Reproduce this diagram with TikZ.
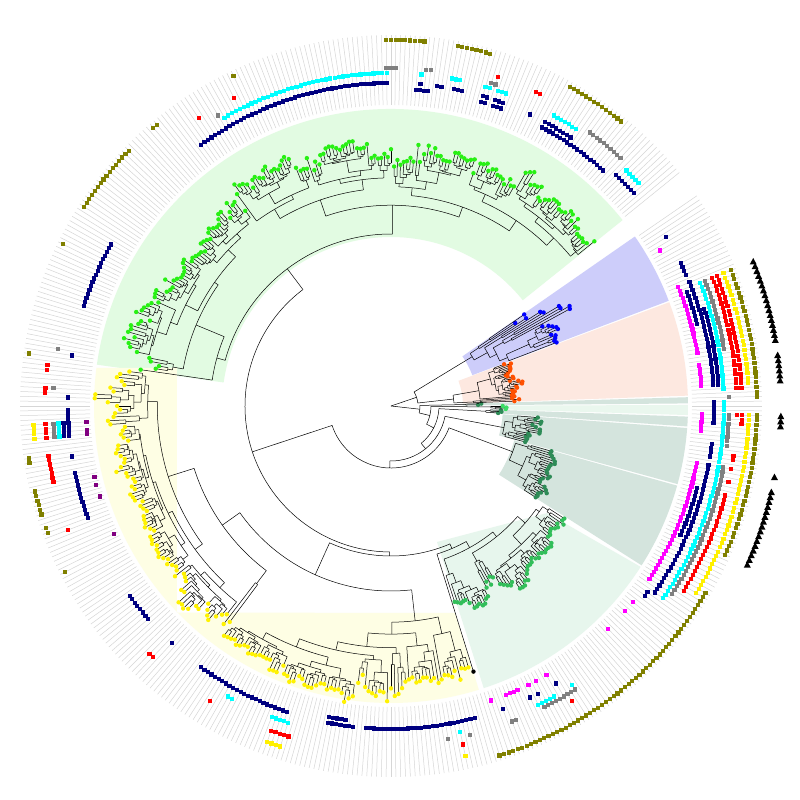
\documentclass[tikz,border=0pt]{standalone}
\definecolor{hlGreen}{RGB}{226,251,226}
\definecolor{hlYel}{RGB}{254,254,228}
\definecolor{hlSal}{RGB}{253,232,224}
\definecolor{hlBlue}{RGB}{205,205,250}
\definecolor{hlGG}{RGB}{212,228,221}
\definecolor{hlF}{RGB}{231,246,237}
\definecolor{hlB}{RGB}{234,247,238}
\definecolor{dGreen}{RGB}{40,240,20}
\definecolor{dYel}{RGB}{255,242,0}
\definecolor{dOrange}{RGB}{255,80,0}
\definecolor{dBlue}{RGB}{0,0,255}
\definecolor{dSea}{RGB}{46,139,87}
\definecolor{dF}{RGB}{50,190,90}
\definecolor{dLime}{RGB}{60,220,100}
\definecolor{cNavy}{RGB}{0,0,128}
\definecolor{cCyan}{RGB}{0,255,255}
\definecolor{cGray}{RGB}{128,128,128}
\definecolor{cRed}{RGB}{255,0,0}
\definecolor{cYel}{RGB}{255,240,0}
\definecolor{cOlive}{RGB}{128,128,0}
\definecolor{cMag}{RGB}{255,0,255}
\definecolor{cPur}{RGB}{128,0,128}
\definecolor{cLine}{RGB}{214,214,214}

\newcommand\tipvar{10}
% \subtree{klo}{khi}{rparent}{rnode}{rtip}{dotcolor}
\newcommand\subtree[6]{%
  \begingroup
  \pgfmathtruncatemacro\nlv{#2-#1}%
  \ifnum\nlv=0\relax
    \pgfmathsetmacro\stang{39+0.75*#1}%
    \pgfmathsetmacro\strt{#5+4*(rnd-0.5)}%
    \draw[edge] (\stang:#3pt) -- (\stang:\strt pt);
    \fill[#6] (\stang:\strt pt) circle[radius=2.2pt];
    \xdef\retang{\stang}%
  \else
    \pgfmathtruncatemacro\stsplit{#1+floor(rnd*\nlv)}%
    \pgfmathtruncatemacro\stsplitb{\stsplit+1}%
    \pgfmathsetmacro\stta{max(#5+(rnd-0.5)*\tipvar,#4+8)}%
    \pgfmathsetmacro\sttb{max(#5+(rnd-0.5)*\tipvar,#4+8)}%
    \pgfmathsetmacro\stra{#4+(\stta-#4)*(0.1+0.35*rnd)}%
    \pgfmathsetmacro\strb{#4+(\sttb-#4)*(0.1+0.35*rnd)}%
    \edef\stcall{\noexpand\subtree{#1}{\stsplit}{#4}{\stra}{\stta}{#6}}\stcall
    \let\stanga\retang
    \edef\stcall{\noexpand\subtree{\stsplitb}{#2}{#4}{\strb}{\sttb}{#6}}\stcall
    \let\stangb\retang
    \pgfmathsetmacro\stmid{(\stanga+\stangb)/2}%
    \draw[edge] (\stanga:#4pt) arc[start angle=\stanga,end angle=\stangb,radius=#4pt];
    \draw[edge] (\stmid:#3pt) -- (\stmid:#4pt);
    \xdef\retang{\stmid}%
  \fi
  \endgroup}
% \joinnode{rparent}{rnode}{a1}{a2}
\newcommand\joinnode[4]{%
  \pgfmathsetmacro\jnmid{(#3+#4)/2}%
  \draw[edge] (#3:#2pt) arc[start angle=#3,end angle=#4,radius=#2pt];
  \draw[edge] (\jnmid:#1pt) -- (\jnmid:#2pt);
  \xdef\retang{\jnmid}}
% \sector{a1}{a2}{rin}{rout}{color}
\newcommand\sector[5]{%
  \fill[#5] (#1:#3pt) arc[start angle=#1,end angle=#2,radius=#3pt] -- (#2:#4pt) arc[start angle=#2,end angle=#1,radius=#4pt] -- cycle;}
% \sqruns{r}{color}{a/b,...}
\newcommand\sqruns[3]{%
  \foreach \qa/\qb in {#3}{%
    \pgfmathsetmacro\qta{\qa<39 ? \qa+360 : \qa}%
    \pgfmathsetmacro\qtb{\qb<39 ? \qb+360 : \qb}%
    \pgfmathtruncatemacro\qka{round((\qta-39)/0.75)}%
    \pgfmathtruncatemacro\qkb{round((\qtb-39)/0.75)}%
    \foreach \qk in {\qka,...,\qkb}{%
      \pgfmathsetmacro\qth{39+0.75*\qk}%
      \fill[#2] (\qth:#1pt) ++(-2.1pt,-2.1pt) rectangle ++(4.2pt,4.2pt);}}}
\newcommand\triruns[1]{%
  \foreach \qa/\qb in {#1}{%
    \pgfmathsetmacro\qta{\qa<39 ? \qa+360 : \qa}%
    \pgfmathsetmacro\qtb{\qb<39 ? \qb+360 : \qb}%
    \pgfmathtruncatemacro\qka{round((\qta-39)/0.75)}%
    \pgfmathtruncatemacro\qkb{round((\qtb-39)/0.75)}%
    \foreach \qk in {\qka,...,\qkb}{%
      \pgfmathsetmacro\qth{39+0.75*\qk}%
      \fill[black] (\qth:390pt) ++(-3.5pt,-3pt) -- ++(7pt,0pt) -- ++(-3.5pt,6.5pt) -- cycle;}}}

\begin{document}
\begin{tikzpicture}[x=1pt,y=1pt,edge/.style={black,line width=0.5pt},gline/.style={cLine,line width=0.5pt}]
\useasboundingbox (-391,-394) rectangle (409,406);
\fill[white] (-391,-394) rectangle (409,406);
\pgfmathsetseed{11}
% ---------- highlighted clades
\sector{38.75}{172.0}{169}{297}{hlGreen}
\fill[hlYel] (-294.6,38) -- (-214,38) -- (-214,-206.5) -- (64,-207) -- (287.2:297pt) arc[start angle=287.2,end angle=172.6,radius=297pt] -- cycle;
\fill[hlF] (46,-136) -- (156,-107) -- (327.2:297pt) arc[start angle=327.2,end angle=288.2,radius=297pt] -- cycle;
\sector{327.55}{344.45}{128}{297}{hlGG}
\sector{344.75}{355.75}{112}{297}{hlGG}
\sector{356.05}{357.95}{100}{297}{hlGG}
\sector{358.25}{360.2}{108}{297}{hlB}
\sector{360.5}{361.7}{72}{297}{hlGG}
\sector{362.0}{380.45}{72}{297}{hlSal}
\sector{380.75}{394.8}{87}{297}{hlBlue}
% ---------- leaf lines
\foreach \k in {0,...,474}{\pgfmathsetmacro\th{39+0.75*\k}\draw[gline] (\th:301pt) -- (\th:371pt);}
% ---------- tree
\renewcommand\tipvar{14}
\subtree{0}{177}{146}{172}{250}{dGreen}\let\aGr\retang
\renewcommand\tipvar{12}
\subtree{178}{330}{150}{185}{272}{dYel}\let\aYe\retang
\subtree{331}{331}{155}{155}{278}{black}\let\aBk\retang
\renewcommand\tipvar{8}
\subtree{332}{384}{155}{162}{202}{dF}\let\aF\retang
\joinnode{150}{155}{\aBk}{\aF}\let\aI\retang
\joinnode{146}{150}{\aYe}{\aI}\let\aH\retang
\joinnode{62}{146}{\aGr}{\aH}\let\aG\retang
\subtree{385}{407}{62}{130}{168}{dSea}\let\aE\retang
\joinnode{55}{62}{\aG}{\aE}\let\aBv\retang
\subtree{408}{422}{55}{115}{140}{dSea}\let\aD\retang
\joinnode{48}{55}{\aBv}{\aD}\let\aBiv\retang
\subtree{423}{425}{48}{95}{108}{dSea}\let\aC\retang
\joinnode{40}{48}{\aBiv}{\aC}\let\aBiii\retang
\subtree{426}{428}{40}{100}{113}{dLime}\let\aBs\retang
\joinnode{29}{40}{\aBiii}{\aBs}\let\aBii\retang
\subtree{429}{430}{29}{75}{87}{dSea}\let\aAs\retang
\joinnode{0}{29}{\aBii}{\aAs}
\renewcommand\tipvar{6}
\subtree{431}{455}{27}{63}{122}{dOrange}\let\aS\retang
\renewcommand\tipvar{30}
\subtree{456}{474}{27}{95}{170}{dBlue}\let\aBl\retang
\joinnode{0}{27}{\aS}{\aBl}
% ---------- rings
\sqruns{305}{cPur}{182.8/182.8,184.5/185.3,193.4/193.4,194.9/194.9,197.2/197.2,205/205}
\sqruns{311}{cMag}{29.9/29.9,10/22.6,3.7/7.4,-3.5/-1.3,-4.8/-4.8,-33.6/-10.6,-39/-39,-41/-41,-46/-46,-60.3/-60.3,-62/-62,-63.7/-63.7,-68/-66,-71/-71}
\sqruns{317}{cNavy}{83.3/85.2,72.5/73.7,70/71,56/61.5,48/56,15/21,-24/-15,-37/-36,259/262}
\sqruns{323}{cNavy}{91/126,84.5/84.5,80.9/81.8,77.5/79.1,72.5/73.7,70/71,64.4/64.4,56/61.5,41/45.5,171.1/171.1,178.8/178.8,181/185.4,188.7/189.2,191.7/200.2,150/162,216/221,227/227,234/251,259/263.6,265.7/285.3,289.9/289.9,295.7/295.7,297.3/297.3,300.6/300.6,3.5/22.5,24.1/26.6,31.3/31.3,-0.7/0.7,-3.3/-1.2,-9.1/-6.5,-12/-10.4,-35/-13}
\sqruns{328}{cNavy}{3.5/17,182.7/185.3}
\sqruns{333}{cCyan}{91/120,84.5/84.5,77.7/79.4,72.7/73.6,70/71,56/61,42/45,182.7/185.3,3.3/21.8,-35/1,281.7/281.7,303/303,296.1/299.5,240.5/241.5,249/252}
\sqruns{338}{cGray}{89/90.5,83.4/84.2,71.8/73,47/54,121/121,170.3/170.3,176.9/176.9,182.7/185.3,10/21.5,1.7/1.7,-6.6/-1.2,-34/-10.4,280/280,283.3/283.3,290.9/291.7,297/303}
\sqruns{346}{cRed}{71.9/71.9,64.4/65.1,117.2/117.2,123.6/123.6,172.9/173.7,177/177.9,182.7/185.3,188.6/192.4,200.8/200.8,226/226.5,238.2/238.2,249.5/252.5,3.2/22,-1.5/-1.5,-9.2/-8,-10.8/-10.8,-13/-13,-15.3/-15.3,-32/-16,281.7/281.7,301.5/301.5}
\sqruns{351}{cRed}{3.2/22,-3.1/-1.5}
\sqruns{358}{cYel}{182.7/185.3,3.4/21.8,-31.5/-1.8,281.7/281.7,249.8/252}
\sqruns{366}{cOlive}{85/90.5,74/79.5,51/60.5,115.7/115.7,129.4/130.7,136/147,153.5/153.5,171.4/172,188.4/189.2,193.6/197,199.3/200,207/207,1.7/21.7,-24/-1.5,-72.6/-31}
\triruns{10/22,3.4/7.7,-3.1/-1.4,-10.8/-10.8,-24/-13}
\end{tikzpicture}
\end{document}
